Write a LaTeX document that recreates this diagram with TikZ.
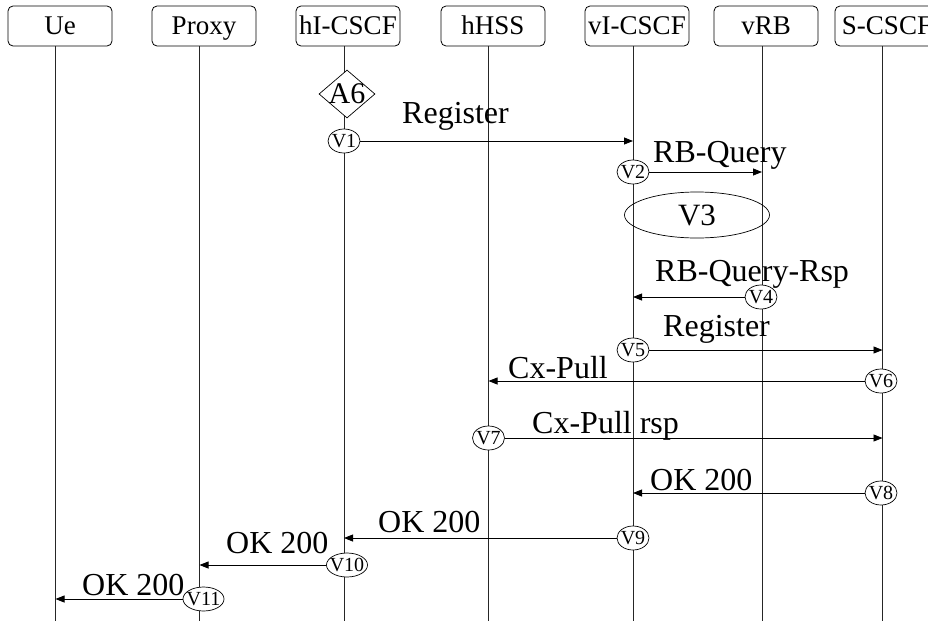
\documentclass[tikz,border=0pt]{standalone}
\usepackage{fontspec}
\setmainfont{Liberation Serif}
\usetikzlibrary{shapes.geometric,arrows.meta}
\begin{document}
\begin{tikzpicture}[x=1pt,y=-1pt,
  hdr/.style={draw, rounded corners=5pt, minimum width=104pt, minimum height=40pt, inner sep=0pt, text height=17pt, text depth=1pt, font=\fontsize{27}{28}\selectfont, line width=0.8pt},
  life/.style={line width=0.8pt, black!85},
  ev/.style={ellipse, draw, fill=white, inner sep=0pt, minimum width=#1, minimum height=24pt, font=\fontsize{20}{20}\selectfont, line width=0.7pt},
  ev/.default=32pt,
  msg/.style={anchor=base west, inner sep=0pt, font=\fontsize{32}{34}\selectfont},
  arr/.style={-{Triangle[length=9pt,width=7pt]}, line width=0.8pt}]
\useasboundingbox[fill=white] (0,0) rectangle (928,621);

% header boxes
\node[hdr] (ue)   at (60,26)  {Ue};
\node[hdr] (px)   at (204,26) {Proxy};
\node[hdr] (hi)   at (348,26) {hI-CSCF};
\node[hdr] (hh)   at (493,26) {hHSS};
\node[hdr] (vi)   at (637,26) {vI-CSCF};
\node[hdr] (vr)   at (766,26) {vRB};
\node[hdr] (sc)   at (887,26) {S-CSCF};

% lifelines
\coordinate (ue0) at (55.5,46);  \coordinate (ue1) at (55.5,621);
\coordinate (px0) at (199.5,46); \coordinate (px1) at (199.5,621);
\coordinate (hi0) at (344,46);   \coordinate (hi1) at (344,621);
\coordinate (hh0) at (488.5,46); \coordinate (hh1) at (488.5,621);
\coordinate (vi0) at (633,46);   \coordinate (vi1) at (633,621);
\coordinate (vr0) at (762,46);   \coordinate (vr1) at (762,621);
\coordinate (sc0) at (882.5,46); \coordinate (sc1) at (882.5,621);
\foreach \l in {ue,px,hi,hh,vi,vr,sc}{\draw[life] (\l0) -- (\l1);}

% A6 and V3
\node[diamond, draw, fill=white, inner sep=0pt, minimum width=56pt, minimum height=48pt, line width=0.7pt, font=\fontsize{30}{30}\selectfont] (a6) at (347,94) {\makebox[0pt]{A6}};
\node[ellipse, draw, inner sep=0pt, minimum width=145pt, minimum height=46pt, line width=0.7pt, font=\fontsize{31}{31}\selectfont] (v3) at (697,215) {\makebox[0pt]{V3}};

% event ellipses
\node[ev] (v1)  at (344,141)   {\makebox[0pt]{V1}};
\node[ev] (v2)  at (633,172)   {\makebox[0pt]{V2}};
\node[ev] (v4)  at (761,297)   {\makebox[0pt]{V4}};
\node[ev] (v5)  at (633,350)   {\makebox[0pt]{V5}};
\node[ev] (v6)  at (881,381)   {\makebox[0pt]{V6}};
\node[ev] (v7)  at (488.5,438) {\makebox[0pt]{V7}};
\node[ev] (v8)  at (881,493)   {\makebox[0pt]{V8}};
\node[ev] (v9)  at (633,538)   {\makebox[0pt]{V9}};
\node[ev=41pt] (v10) at (347,565) {\makebox[0pt]{V10}};
\node[ev=41pt] (v11) at (203.5,599) {\makebox[0pt]{V11}};

% arrow targets on lifelines
\coordinate (t1)  at (633,141);
\coordinate (t2)  at (762,172);
\coordinate (t4)  at (633,297);
\coordinate (t5)  at (882.5,350);
\coordinate (t6)  at (488.5,381);
\coordinate (t7)  at (882.5,438);
\coordinate (t8)  at (633,493);
\coordinate (t9)  at (344,538);
\coordinate (t10) at (199.5,565);
\coordinate (t11) at (55.5,599);

\draw[arr] (v1) -- (t1);
\draw[arr] (v2) -- (t2);
\draw[arr] (v4) -- (t4);
\draw[arr] (v5) -- (t5);
\draw[arr] (v6) -- (t6);
\draw[arr] (v7) -- (t7);
\draw[arr] (v8) -- (t8);
\draw[arr] (v9) -- (t9);
\draw[arr] (v10) -- (t10);
\draw[arr] (v11) -- (t11);

% message labels
\node[msg] (m1)  at (402,123) {Register};
\node[msg] (m2)  at (653,162) {RB-Query};
\node[msg] (m4)  at (655,281) {RB-Query-Rsp};
\node[msg] (m5)  at (663,336) {Register};
\node[msg] (m6)  at (508,378) {Cx-Pull};
\node[msg] (m7)  at (532,433) {Cx-Pull rsp};
\node[msg] (m8)  at (650,490) {OK 200};
\node[msg] (m9)  at (378,532) {OK 200};
\node[msg] (m10) at (226,553) {OK 200};
\node[msg] (m11) at (82,595)  {OK 200};
\end{tikzpicture}
\end{document}
